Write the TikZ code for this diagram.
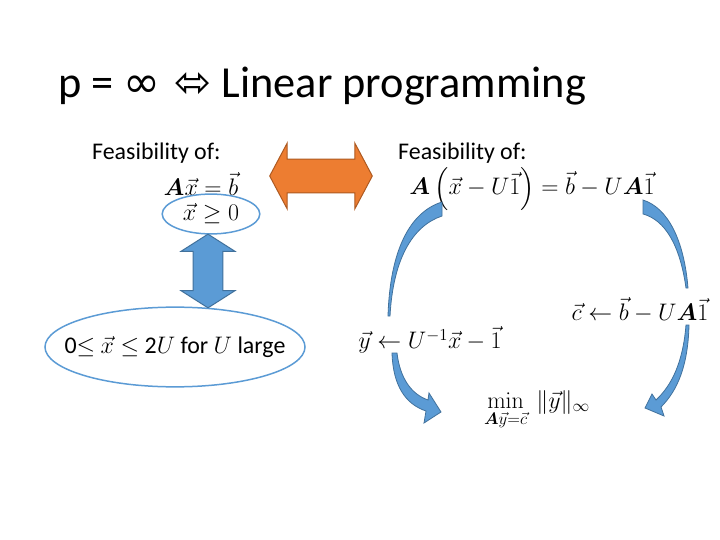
\RequirePackage{fix-cm}
\documentclass[tikz,border=0pt]{standalone}
\usepackage{amsmath}
\usepackage{amssymb}
\usepackage{bm}
\usepackage[no-math]{fontspec}
\setmainfont{Carlito}
\newfontfamily\symfont{DejaVu Sans}
\usetikzlibrary{positioning}
\usetikzlibrary{shapes.geometric}
\usetikzlibrary{shapes.arrows}
\definecolor{arrowblue}{HTML}{5B9BD5}
\definecolor{arrowblueline}{HTML}{41719C}
\definecolor{arroworange}{HTML}{ED7D31}
\definecolor{arroworangeline}{HTML}{AE5A21}
\tikzset{
  slidetext/.style={font=\fontsize{24}{28}\selectfont, inner sep=0pt},
  mathtext/.style={font=\fontsize{24}{28}\selectfont, inner sep=1pt},
  constraint/.style={ellipse, draw=arrowblue, line width=1.5pt, inner sep=0pt},
  blockarrow/.style={double arrow, double arrow head indent=0pt, inner xsep=0pt, line width=1pt},
  curvedarrow/.style={fill=arrowblue, draw=arrowblueline, line width=0.8pt},
}
\begin{document}
\begin{tikzpicture}[x=1bp, y=-1bp]
  \useasboundingbox[fill=white] (0,0) rectangle (720,540);

  \node [anchor=base west, inner sep=0pt, font=\fontsize{44.5}{52}\selectfont] (title) at (58,98)
    {p = {\symfont ∞ ⬄} Linear programming};

  \node [slidetext, anchor=base west] (feasleft) at (92,160) {Feasibility of:};
  \node [mathtext] (axb) at (201,184) {$\bm{A}\vec{x}=\vec{b}$};
  \node [constraint, minimum width=98, minimum height=40] (pos) at (211,214) {};
  \node [mathtext] at (pos) {$\vec{x}\geq 0$};
  \node [constraint, minimum width=261, minimum height=80] (box) at (175,347) {};
  \node [slidetext] at (box) {0$\leq$ $\vec{x}\leq$ 2$U$ for $U$ large};
  \node [blockarrow, fill=arrowblue, draw=arrowblueline, rotate=90, inner ysep=14.5,
    minimum height=74, double arrow head extend=12,
    double arrow tip angle=115] (equiv) at (208,271) {};

  \node [blockarrow, fill=arroworange, draw=arroworangeline, inner ysep=16.5,
    minimum height=103, double arrow head extend=16,
    double arrow tip angle=124] (equal) at (321,176) {};

  \node [slidetext, anchor=base west] (feasright) at (398,160) {Feasibility of:};
  \node [mathtext] (shifted) at (532,189)
    {$\bm{A}\left(\vec{x}-U\vec{1}\right)=\vec{b}-U\bm{A}\vec{1}$};
  \node [mathtext] (cdef) at (640,310) {$\vec{c}\leftarrow\vec{b}-U\bm{A}\vec{1}$};
  \node [mathtext] (ydef) at (430,340) {$\vec{y}\leftarrow U^{-1}\vec{x}-\vec{1}$};
  \node [mathtext] (lp) at (537,410)
    {$\min\limits_{\bm{A}\vec{y}=\vec{c}}\ \|\vec{y}\|_\infty$};

  \draw [curvedarrow] (442,202) .. controls (410,212) and (390,250) .. (388,316)
    -- (390,316) .. controls (393,260) and (412,226) .. (442,216) -- cycle;
  \draw [curvedarrow] (392,353) -- (397,353) .. controls (400,378) and (411,394) .. (428,400)
    -- (429,393) -- (441,412) -- (424,423) -- (426,411)
    .. controls (405,404) and (393,385) .. (392,353) -- cycle;
  \draw [curvedarrow] (643,200) .. controls (668,208) and (684,240) .. (688,288)
    -- (686,288) .. controls (680,245) and (665,220) .. (643,214) -- cycle;
  \draw [curvedarrow] (686,325) -- (689,325) .. controls (688,365) and (678,390) .. (661,407)
    -- (664,416) -- (645,408) -- (652,394) -- (656,400)
    .. controls (672,385) and (683,362) .. (686,325) -- cycle;
\end{tikzpicture}
\end{document}
